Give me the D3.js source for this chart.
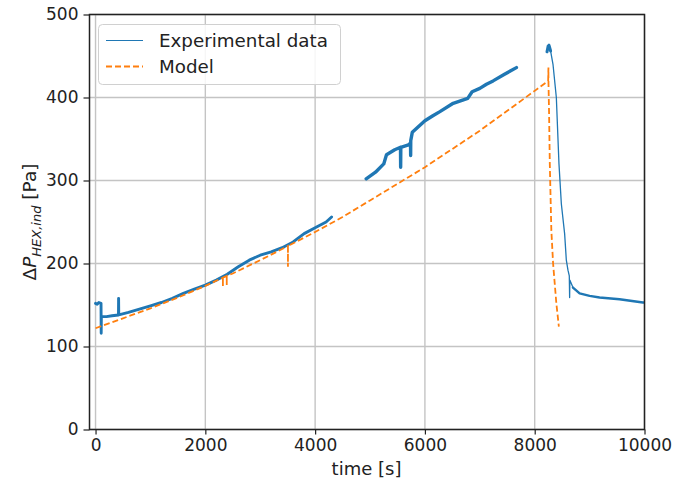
<!DOCTYPE html>
<html><head><meta charset="utf-8">
<script src="https://cdn.jsdelivr.net/npm/d3@7"></script>
<style>body{margin:0;background:#fff;} svg{display:block;font-family:"DejaVu Sans",sans-serif;}</style>
</head><body>
<script>
// ---- data ----
const xTicks = [0, 2000, 4000, 6000, 8000, 10000];
const yTicks = [0, 100, 200, 300, 400, 500];
const seriesNames = ["Experimental data", "Model"];

// Experimental data: three recorded segments (time [s], dP [Pa])
const expSegA_t = [0, 30, 60, 100, 103, 106, 200, 300, 418, 420, 423, 600, 800, 1000, 1200, 1400, 1600, 1800, 2000, 2200, 2400, 2600, 2800, 3000, 3200, 3400, 3600, 3800, 4000, 4200, 4300];
const expSegA_v = [152, 151, 153, 152, 116, 136, 136, 137, 138, 158, 138, 141, 145, 149, 153, 158, 164, 169, 174, 180, 187, 196, 204, 210, 214, 219, 226, 236, 243, 250, 256];
const expSegB_t = [4930, 5100, 5250, 5300, 5450, 5555, 5558, 5561, 5700, 5738, 5740, 5742, 5770, 5900, 6000, 6145, 6273, 6515, 6780, 6860, 7000, 7121, 7242, 7450, 7667];
const expSegB_v = [302, 310, 320, 331, 337, 340, 316, 340, 343, 345, 330, 348, 358, 366, 372, 378, 383, 393, 399, 407, 411, 416, 420, 428, 436];
const expSegC_t = [8224, 8245, 8260, 8290, 8333, 8394, 8442, 8485, 8545, 8576, 8606, 8630, 8636, 8640, 8697, 8818, 9000, 9182, 9545, 9970, 10000];
const expSegC_v = [455, 462, 463, 456, 440, 400, 320, 272, 236, 204, 192, 185, 159, 180, 171, 164, 161, 159, 157, 153, 153];

// Model
const model_t = [0, 500, 1000, 1500, 2000, 2320, 2320, 2320, 2390, 2390, 2390, 2500, 3000, 3505, 3505, 3505, 4000, 4500, 5000, 5500, 6000, 6500, 7000, 7500, 8000, 8245, 8250, 8250, 8262, 8275, 8303, 8335, 8394, 8440];
const model_v = [122, 134, 146, 159, 173, 183, 173, 183, 185, 174, 185, 188, 204, 221, 196, 221, 238, 256, 276, 296, 316, 338, 360, 384, 408, 420, 436, 421, 380, 320, 240, 200, 152, 124];

// ---- layout ----
const W = 691, H = 484;
const L = 89.5, R = 644.5, T = 14.5, B = 429.5;
const svg = d3.select("body").append("svg").attr("width", W).attr("height", H);

const x = d3.scaleLinear().domain([-110, 10000]).range([L, R]);
const y = d3.scaleLinear().domain([0, 500]).range([B, T]);

// grid
const g = svg.append("g");
g.selectAll(".gx").data(xTicks).join("line")
  .attr("x1", d => x(d)).attr("x2", d => x(d)).attr("y1", T).attr("y2", B)
  .attr("stroke", "#c4c4c4").attr("stroke-width", 1.4);
g.selectAll(".gy").data(yTicks).join("line")
  .attr("x1", L).attr("x2", R).attr("y1", d => y(d)).attr("y2", d => y(d))
  .attr("stroke", "#c4c4c4").attr("stroke-width", 1.4);

// clip
svg.append("clipPath").attr("id", "clip").append("rect")
  .attr("x", L).attr("y", T).attr("width", R - L).attr("height", B - T);

const line = d3.line().x(d => x(d[0])).y(d => y(d[1]));
const plot = svg.append("g").attr("clip-path", "url(#clip)");

const pts = (ts, vs) => ts.map((t, i) => [t, vs[i]]);
const segC = pts(expSegC_t, expSegC_v);
// the noise band is wider where the signal varies slowly
const pieces = [
  [pts(expSegA_t, expSegA_v), 2.9],
  [pts(expSegB_t, expSegB_v), 3.4],
  [segC.filter(d => d[0] <= 8290), 3.0],
  [segC.filter(d => d[0] >= 8290 && d[0] <= 8697), 1.3],
  [segC.filter(d => d[0] >= 8697), 2.4]
];
pieces.forEach(([data, w]) => {
  plot.append("path").datum(data)
    .attr("d", line).attr("fill", "none").attr("stroke", "#1f77b4")
    .attr("stroke-width", w).attr("stroke-linejoin", "round").attr("stroke-linecap", "round");
});

plot.append("path").datum(pts(model_t, model_v))
  .attr("d", line).attr("fill", "none").attr("stroke", "#ff7f0e")
  .attr("stroke-width", 1.8).attr("stroke-dasharray", "6,3");

// axes
const xAxis = svg.append("g").attr("transform", `translate(0,${B})`)
  .call(d3.axisBottom(x).tickValues(xTicks).tickSize(5).tickPadding(4.5).tickFormat(d3.format("d")));
const yAxis = svg.append("g").attr("transform", `translate(${L},0)`)
  .call(d3.axisLeft(y).tickValues(yTicks).tickSize(6).tickPadding(5).tickFormat(d3.format("d")));
[xAxis, yAxis].forEach(a => {
  a.select(".domain").remove();
  a.selectAll("line").attr("stroke", "#222").attr("stroke-width", 1.2);
  a.selectAll("text").attr("font-size", 17).attr("fill", "#222").attr("font-family", "DejaVu Sans");
});

// spines
svg.append("rect").attr("x", L).attr("y", T).attr("width", R - L).attr("height", B - T)
  .attr("fill", "none").attr("stroke", "#222").attr("stroke-width", 1.5);

// axis labels
svg.append("text").attr("x", 366.5).attr("y", 475).attr("text-anchor", "middle")
  .attr("font-size", 18).attr("fill", "#222").text("time [s]");

const yl = svg.append("text").attr("transform", "translate(36,222) rotate(-90)")
  .attr("text-anchor", "middle").attr("font-size", 18.5).attr("fill", "#222");
yl.append("tspan").text("Δ");
yl.append("tspan").attr("font-style", "italic").text("P");
yl.append("tspan").attr("font-style", "italic").attr("font-size", 13).attr("dy", 4.5).text("HEX,ind");
yl.append("tspan").attr("dy", -4.5).text(" [Pa]");

// legend
const lg = svg.append("g");
lg.append("rect").attr("x", 98.5).attr("y", 24.5).attr("width", 242).attr("height", 60).attr("rx", 4)
  .attr("fill", "#fff").attr("fill-opacity", 0.85).attr("stroke", "#d0d0d0").attr("stroke-width", 1);
const items = [{c: "#1f77b4", dash: null, w: 1.2}, {c: "#ff7f0e", dash: "6,3", w: 1.8}];
items.forEach((it, i) => {
  const cy = 40.5 + i * 26;
  lg.append("line").attr("x1", 106).attr("x2", 143).attr("y1", cy).attr("y2", cy)
    .attr("stroke", it.c).attr("stroke-width", it.w).attr("stroke-dasharray", it.dash);
  lg.append("text").attr("x", 159).attr("y", cy + 6.5).attr("font-size", 18.3).attr("fill", "#222")
    .text(seriesNames[i]);
});
</script>
</body></html>
